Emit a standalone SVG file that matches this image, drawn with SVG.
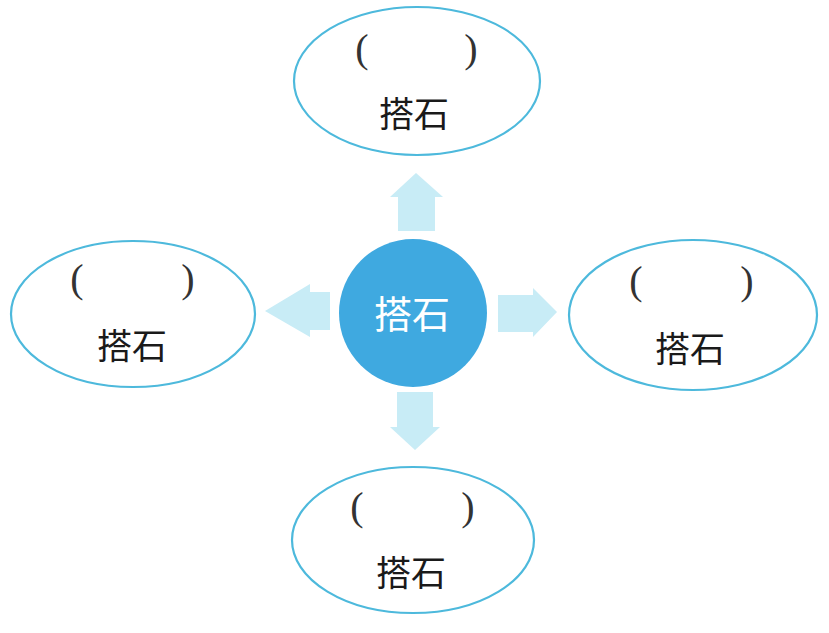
<svg xmlns="http://www.w3.org/2000/svg" width="829" height="633" viewBox="0 0 829 633">
<style>
.ell{fill:#ffffff;stroke:#4db9dc;stroke-width:2.2}
.lbl{font-family:"Noto Sans CJK SC","Noto Sans CJK JP",sans-serif;font-size:35px;fill:#1a1a1a;text-anchor:middle}
.par{font-family:"Liberation Serif",serif;font-size:40px;fill:#333333;text-anchor:middle}
.arr{fill:#c8ecf6}
.ctr{font-family:"Noto Sans CJK SC","Noto Sans CJK JP",sans-serif;font-size:38px;fill:#ffffff;text-anchor:middle}
</style>
<rect width="829" height="633" fill="#ffffff"/>
<g id="connectors">
<polygon class="arr" points="398,231 398,197 390,197 416,173 443,197 435,197 435,231"/>
<polygon class="arr" points="397,392 433,392 433,427 440,427 415,450 390,427 397,427"/>
<polygon class="arr" points="330,292 330,330 310,330 310,337 265,311 310,284 310,292"/>
<polygon class="arr" points="498,295 533,295 533,288 557,312 533,337 533,332 498,332"/>
</g>
<g id="center">
<circle cx="413" cy="313" r="74" fill="#3fa9e0"/>
<text class="ctr" x="412" y="328">搭石</text>
</g>
<g id="top">
<ellipse class="ell" cx="417" cy="81" rx="123" ry="74"/>
<text class="par" x="362" y="62">(</text>
<text class="par" x="471" y="62">)</text>
<text class="lbl" x="414" y="127">搭石</text>
</g>
<g id="left">
<ellipse class="ell" cx="133" cy="314" rx="122" ry="73"/>
<text class="par" x="77" y="292">(</text>
<text class="par" x="188" y="292">)</text>
<text class="lbl" x="132" y="359">搭石</text>
</g>
<g id="right">
<ellipse class="ell" cx="693" cy="315" rx="124" ry="75"/>
<text class="par" x="636" y="294">(</text>
<text class="par" x="747" y="294">)</text>
<text class="lbl" x="690" y="362">搭石</text>
</g>
<g id="bottom">
<ellipse class="ell" cx="413" cy="540" rx="121" ry="73"/>
<text class="par" x="357" y="520">(</text>
<text class="par" x="468" y="520">)</text>
<text class="lbl" x="411" y="586">搭石</text>
</g>
</svg>
